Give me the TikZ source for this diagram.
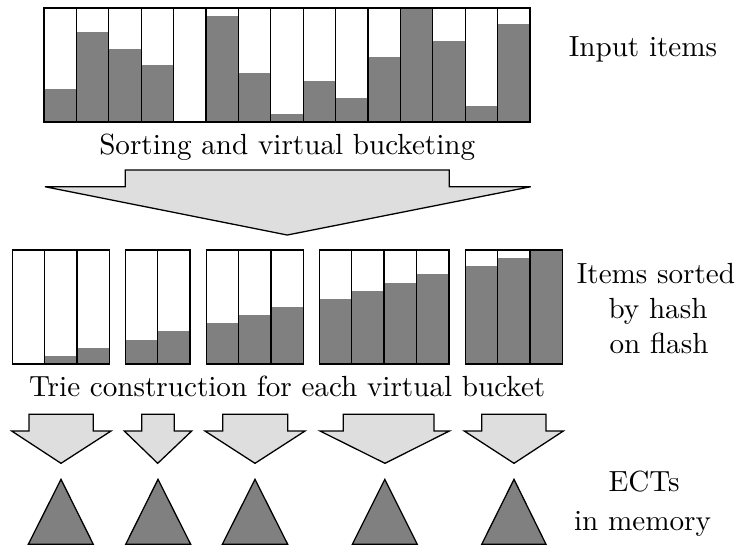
\documentclass[tikz,border=0pt]{standalone}
\begin{document}
\begin{tikzpicture}[x=0.35pt,y=-0.35pt,
  bar/.style={draw=black,line width=0.45pt},
  barfill/.style={fill=black!50},
  bigarrow/.style={draw=black,fill=black!13,line width=0.45pt,line join=miter},
  tri/.style={draw=black,fill=black!50,line width=0.45pt,line join=miter},
  lbl/.style={anchor=base,inner sep=0pt,font=\fontsize{10.2}{12}\selectfont}]
\useasboundingbox (0,0) rectangle (743,549);
% --- top row: input items
\def\cw{32.4}\def\uh{8.1429}
\foreach \v [count=\i from 0] in {4,11,9,7,0,13,6,1,5,3,8,14,10,2,12}{
  \pgfmathsetmacro{\xa}{44+\i*\cw}
  \pgfmathsetmacro{\xb}{44+(\i+1)*\cw}
  \pgfmathsetmacro{\yt}{122-\v*\uh}
  \ifnum\v>0 \fill[barfill] (\xa,122) rectangle (\xb,\yt);\fi
  \draw[bar] (\xa,8) rectangle (\xb,122);
}
\node[lbl] (input) at (643,56) {Input items};
\node[lbl] (sort) at (287.2,154.5) {Sorting and virtual bucketing};
% big arrow
\draw[bigarrow] (125.3,170) -- (449.3,170) -- (449.3,186.7) -- (530.7,186.7) -- (287.3,235) -- (45,186.7) -- (125.3,186.7) -- cycle;
% --- second row: sorted groups
\foreach \gx/\first/\n in {12.3/0/3,125.3/3/2,206.3/5/3,319.3/8/4,465.3/12/3}{
  \foreach \k in {1,...,\n}{
    \pgfmathsetmacro{\xa}{\gx+(\k-1)*\cw}
    \pgfmathsetmacro{\xb}{\gx+\k*\cw}
    \pgfmathtruncatemacro{\v}{\first+\k-1}
    \pgfmathsetmacro{\yt}{364-\v*\uh}
    \ifnum\v>0 \fill[barfill] (\xa,364) rectangle (\xb,\yt);\fi
    \draw[bar] (\xa,250) rectangle (\xb,364);
  }
}
\node[lbl] (items1) at (656,283) {Items sorted};
\node[lbl] (items2) at (658,318) {by hash};
\node[lbl] (items3) at (659,353) {on flash};
\node[lbl] (trie) at (287.2,396.8) {Trie construction for each virtual bucket};
% small arrows
\foreach \wl/\wr/\sl/\sr/\tx in {11.7/111/29/93.3/61, 124.3/191.7/141.7/174.3/157.7, 205/305/222.7/287.7/255, 320/449.3/343.3/434/385, 464.3/563.3/481.7/546/514}{
  \draw[bigarrow] (\sl,414.3) -- (\sr,414.3) -- (\sr,431) -- (\wr,431) -- (\tx,463.3) -- (\wl,431) -- (\sl,431) -- cycle;
}
% triangles
\foreach \bl/\br/\ax in {28.3/93.3/61, 125.7/190.7/158, 222.3/287.7/255, 352.3/417.3/384.8, 481.7/546/514}{
  \draw[tri] (\bl,544.3) -- (\br,544.3) -- (\ax,479.3) -- cycle;
}
\node[lbl] (ect1) at (644,491.7) {ECTs};
\node[lbl] (ect2) at (642.5,530) {in memory};
\end{tikzpicture}
\end{document}
